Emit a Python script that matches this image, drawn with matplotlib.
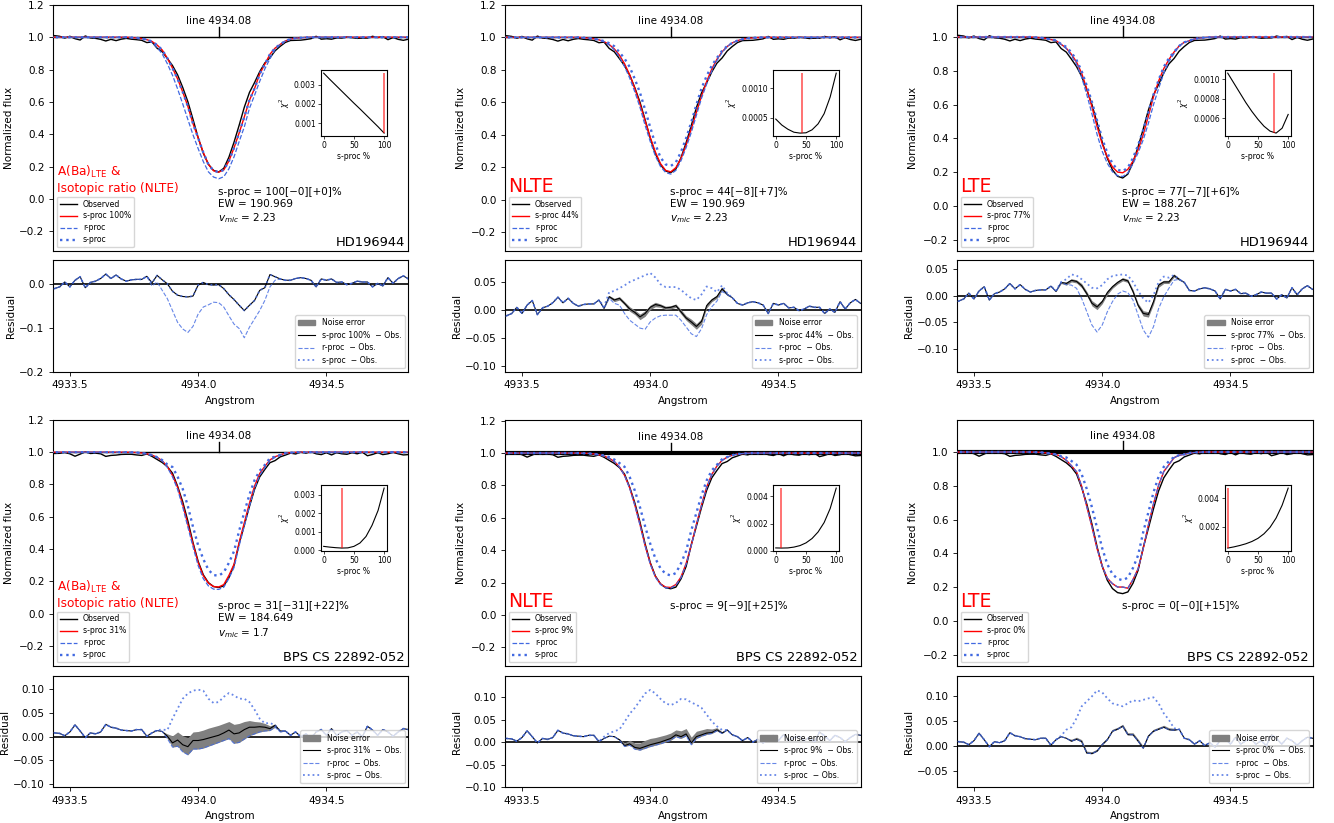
import numpy as np
import matplotlib
matplotlib.use("Agg")
import matplotlib.pyplot as plt
from matplotlib.patches import Patch
from matplotlib.ticker import FormatStrFormatter

plt.rcParams.update({
    "font.size": 7.5,
    "axes.linewidth": 0.8,
    "xtick.major.size": 2.6,
    "ytick.major.size": 2.6,
    "xtick.major.width": 0.6,
    "ytick.major.width": 0.6,
})

# ---------------------------------------------------------------- data
LINE_CENTER = 4934.08

# wavelength sampling of the spectra (Angstrom)
wave = np.linspace(4933.42, 4934.82, 71)
# window around the Ba II line where the synthetic spectra depart from the continuum
core = (wave > 4933.735) & (wave < 4934.425)

# observed normalized flux
obs_hd196944 = [
    1.012, 1.010, 1.006, 0.995, 1.006, 0.991, 0.983, 1.008, 0.996, 0.993,
    0.987, 0.977, 0.987, 0.979, 0.988, 0.993,
    0.988, 0.985, 0.981, 0.967, 0.971, 0.932, 0.911, 0.869, 0.825, 0.767,
    0.689, 0.601, 0.492, 0.379, 0.283, 0.214, 0.176, 0.166, 0.189, 0.258,
    0.351, 0.456, 0.567, 0.658, 0.720, 0.787, 0.841, 0.873, 0.916, 0.944,
    0.968, 0.980, 0.981, 0.982, 0.986,
    0.991, 1.006, 0.988, 0.991, 0.988, 0.996, 0.995, 1.001, 0.998, 0.993,
    0.995, 0.995, 1.006, 0.998, 1.004, 0.985, 0.998, 0.987, 0.981, 0.988,
]
obs_cs22892 = [
    0.990, 0.992, 0.993, 0.998, 0.990, 0.975, 0.988, 1.002, 0.992, 0.994,
    0.990, 0.974, 0.980, 0.982, 0.986, 0.987,
    0.987, 0.983, 0.980, 0.989, 0.974, 0.955, 0.936, 0.910, 0.870, 0.789,
    0.692, 0.574, 0.440, 0.324, 0.241, 0.192, 0.168, 0.162, 0.172, 0.223,
    0.300, 0.434, 0.548, 0.664, 0.770, 0.847, 0.893, 0.935, 0.948, 0.971,
    0.982, 0.994, 0.989, 1.000, 0.994,
    1.003, 0.990, 0.985, 0.997, 0.983, 0.997, 0.990, 0.987, 0.997, 0.990,
    1.000, 0.978, 0.986, 0.997, 0.985, 0.990, 0.999, 0.990, 0.983, 0.985,
]

# residuals (synthetic - observed) inside the line window, 4933.74 ... 4934.42
# HD196944, A(Ba)_LTE & isotopic ratio (NLTE)
res_hd_ltei_best = [0.010, 0.011, 0.011, 0.018, 0.003, 0.020, 0.010, 0.001, -0.016, -0.025,
                    -0.028, -0.029, -0.027, -0.002, 0.004, -0.001, -0.002, -0.001, -0.010, -0.024,
                    -0.035, -0.048, -0.060, -0.048, -0.037, -0.014, -0.008, 0.022, 0.017, 0.012,
                    0.009, 0.009, 0.013, 0.015, 0.013]
res_hd_ltei_r = [0.010, 0.011, 0.011, 0.018, -0.004, 0.005, -0.014, -0.033, -0.060, -0.087,
                 -0.102, -0.110, -0.096, -0.068, -0.052, -0.047, -0.041, -0.042, -0.052, -0.072,
                 -0.091, -0.101, -0.122, -0.098, -0.079, -0.060, -0.037, -0.006, 0.009, 0.012,
                 0.009, 0.009, 0.013, 0.015, 0.013]
res_hd_ltei_s = res_hd_ltei_best
# HD196944, NLTE
res_hd_nlte_best = [0.010, 0.011, 0.011, 0.018, 0.003, 0.024, 0.018, 0.021, 0.012, 0.002,
                    -0.004, -0.012, -0.006, 0.005, 0.010, 0.008, 0.004, 0.005, 0.008, -0.003,
                    -0.014, -0.021, -0.029, -0.020, 0.008, 0.018, 0.024, 0.038, 0.028, 0.022,
                    0.012, 0.009, 0.013, 0.015, 0.013]
res_hd_nlte_r = [0.010, 0.011, 0.011, 0.018, 0.003, 0.021, 0.012, 0.009, -0.006, -0.018,
                 -0.025, -0.032, -0.034, -0.021, -0.014, -0.010, -0.009, -0.009, -0.009, -0.018,
                 -0.030, -0.042, -0.047, -0.033, -0.008, 0.006, 0.016, 0.033, 0.028, 0.022,
                 0.012, 0.009, 0.013, 0.015, 0.013]
res_hd_nlte_s = [0.010, 0.011, 0.011, 0.018, 0.006, 0.032, 0.034, 0.039, 0.044, 0.050,
                 0.054, 0.058, 0.062, 0.066, 0.058, 0.046, 0.041, 0.041, 0.041, 0.036,
                 0.028, 0.021, 0.018, 0.028, 0.042, 0.039, 0.032, 0.044, 0.030, 0.022,
                 0.012, 0.009, 0.013, 0.015, 0.013]
# HD196944, LTE
res_hd_lte_best = [0.010, 0.011, 0.011, 0.018, 0.008, 0.025, 0.023, 0.029, 0.027, 0.019,
                   0.004, -0.014, -0.021, -0.011, 0.006, 0.017, 0.025, 0.031, 0.028, 0.008,
                   -0.018, -0.033, -0.035, -0.011, 0.020, 0.026, 0.026, 0.038, 0.031, 0.025,
                   0.010, 0.009, 0.013, 0.015, 0.013]
res_hd_lte_r = [0.010, 0.011, 0.011, 0.018, 0.008, 0.025, 0.021, 0.020, 0.014, -0.005,
                -0.030, -0.055, -0.068, -0.055, -0.030, -0.011, 0.003, 0.009, 0.006, -0.008,
                -0.036, -0.064, -0.078, -0.058, -0.024, -0.002, 0.014, 0.029, 0.031, 0.025,
                0.010, 0.009, 0.013, 0.015, 0.013]
res_hd_lte_s = [0.010, 0.011, 0.011, 0.018, 0.010, 0.026, 0.031, 0.040, 0.038, 0.031,
                0.023, 0.015, 0.014, 0.020, 0.031, 0.037, 0.039, 0.040, 0.038, 0.026,
                0.009, -0.005, -0.013, 0.001, 0.026, 0.036, 0.034, 0.039, 0.031, 0.025,
                0.010, 0.009, 0.013, 0.015, 0.013]
# half width of the noise envelope for HD196944
noise_hd = [0, 0, 0, 0, 0, 0.002, 0.003, 0.003, 0.003, 0.004,
            0.004, 0.005, 0.005, 0.004, 0.004, 0.003, 0.003, 0.003, 0.003, 0.004,
            0.004, 0.005, 0.005, 0.005, 0.004, 0.003, 0.003, 0.003, 0.002, 0,
            0, 0, 0, 0, 0]
noise_none = [0] * 35

# BPS CS 22892-052, A(Ba)_LTE & isotopic ratio (NLTE)
res_cs_ltei_best = [0.012, 0.015, 0.015, 0.001, 0.008, 0.013, 0.011, 0.001, -0.013, -0.007,
                    -0.017, -0.021, -0.008, -0.008, -0.006, -0.003, 0.000, 0.003, 0.008, 0.014,
                    0.006, 0.008, 0.015, 0.020, 0.020, 0.021, 0.020, 0.017, 0.024, 0.012,
                    0.012, 0.003, 0.010, 0.000, 0.006]
res_cs_ltei_r = [0.012, 0.015, 0.015, 0.001, 0.008, 0.013, 0.011, -0.004, -0.022, -0.020,
                 -0.032, -0.038, -0.026, -0.026, -0.024, -0.020, -0.016, -0.012, -0.008, -0.004,
                 -0.014, -0.012, -0.005, 0.002, 0.006, 0.010, 0.012, 0.013, 0.020, 0.010,
                 0.012, 0.003, 0.010, 0.000, 0.006]
res_cs_ltei_s = [0.012, 0.015, 0.015, 0.001, 0.008, 0.014, 0.015, 0.014, 0.038, 0.059,
                 0.080, 0.091, 0.097, 0.099, 0.097, 0.080, 0.071, 0.073, 0.084, 0.092,
                 0.087, 0.080, 0.080, 0.073, 0.057, 0.038, 0.028, 0.029, 0.024, 0.012,
                 0.012, 0.003, 0.010, 0.000, 0.006]
band_cs_ltei_hi = [0.012, 0.015, 0.015, 0.001, 0.008, 0.013, 0.011, 0.006, 0.002, 0.010,
                   0.002, -0.002, 0.010, 0.011, 0.014, 0.018, 0.021, 0.024, 0.028, 0.032,
                   0.026, 0.028, 0.032, 0.034, 0.032, 0.031, 0.028, 0.023, 0.027, 0.012,
                   0.012, 0.003, 0.010, 0.000, 0.006]
# BPS CS 22892-052, NLTE
res_cs_nlte_best = [0.012, 0.015, 0.015, 0.001, 0.008, 0.013, 0.012, 0.005, -0.008, -0.004,
                    -0.012, -0.014, -0.010, -0.006, -0.003, 0.000, 0.004, 0.008, 0.016, 0.012,
                    0.018, -0.002, 0.012, 0.016, 0.020, 0.021, 0.027, 0.020, 0.027, 0.016,
                    0.012, 0.003, 0.010, 0.000, 0.006]
res_cs_nlte_r = [0.012, 0.015, 0.015, 0.001, 0.008, 0.013, 0.012, 0.004, -0.010, -0.007,
                 -0.016, -0.018, -0.014, -0.010, -0.007, -0.004, 0.000, 0.004, 0.012, 0.008,
                 0.014, -0.006, 0.008, 0.013, 0.017, 0.019, 0.025, 0.019, 0.027, 0.016,
                 0.012, 0.003, 0.010, 0.000, 0.006]
res_cs_nlte_s = [0.012, 0.015, 0.015, 0.001, 0.012, 0.020, 0.024, 0.028, 0.045, 0.063,
                 0.076, 0.092, 0.108, 0.116, 0.108, 0.096, 0.086, 0.082, 0.087, 0.096,
                 0.095, 0.088, 0.083, 0.076, 0.061, 0.046, 0.035, 0.027, 0.027, 0.016,
                 0.012, 0.003, 0.010, 0.000, 0.006]
band_cs_nlte_hi = [0.012, 0.015, 0.015, 0.001, 0.008, 0.013, 0.012, 0.007, -0.002, 0.004,
                   -0.002, -0.002, 0.004, 0.008, 0.010, 0.013, 0.016, 0.020, 0.027, 0.025,
                   0.030, 0.011, 0.024, 0.027, 0.030, 0.029, 0.032, 0.023, 0.028, 0.016,
                   0.012, 0.003, 0.010, 0.000, 0.006]
# BPS CS 22892-052, LTE
res_cs_lte_best = [0.012, 0.015, 0.015, 0.001, 0.012, 0.018, 0.015, 0.009, 0.013, 0.008,
                   -0.015, -0.016, -0.011, 0.002, 0.012, 0.029, 0.033, 0.039, 0.022, 0.022,
                   0.009, -0.005, 0.019, 0.029, 0.033, 0.037, 0.032, 0.031, 0.033, 0.015,
                   0.012, 0.003, 0.010, 0.000, 0.006]
res_cs_lte_r = res_cs_lte_best
res_cs_lte_s = [0.012, 0.015, 0.015, 0.001, 0.012, 0.020, 0.032, 0.037, 0.055, 0.079,
                0.089, 0.099, 0.111, 0.107, 0.095, 0.085, 0.082, 0.079, 0.085, 0.091,
                0.089, 0.092, 0.095, 0.097, 0.085, 0.065, 0.052, 0.035, 0.033, 0.015,
                0.012, 0.003, 0.010, 0.000, 0.006]
band_cs_lte_hi = [0.012, 0.015, 0.015, 0.001, 0.012, 0.018, 0.015, 0.013, 0.017, 0.012,
                  -0.011, -0.012, -0.007, 0.006, 0.016, 0.033, 0.037, 0.043, 0.026, 0.026,
                  0.013, -0.001, 0.023, 0.033, 0.037, 0.041, 0.036, 0.035, 0.033, 0.015,
                  0.012, 0.003, 0.010, 0.000, 0.006]

# chi-square of the fit against the s-process fraction
sproc_grid = [0, 10, 20, 30, 40, 50, 60, 70, 80, 90, 100]
chi2_hd_ltei = [0.00360, 0.00328, 0.00297, 0.00266, 0.00235, 0.00204, 0.00174, 0.00143, 0.00112, 0.00081, 0.00048]
chi2_hd_nlte = [0.00048, 0.00038, 0.00031, 0.00026, 0.000245, 0.00025, 0.00030, 0.00040, 0.00057, 0.00085, 0.00125]
chi2_hd_lte = [0.00106, 0.00096, 0.00086, 0.00076, 0.00067, 0.00059, 0.00052, 0.00047, 0.00045, 0.00050, 0.00064]
chi2_cs_ltei = [0.00022, 0.00018, 0.00015, 0.00013, 0.00014, 0.00022, 0.00040, 0.00075, 0.00135, 0.00215, 0.00335]
chi2_cs_nlte = [0.00021, 0.00020, 0.00021, 0.00027, 0.00038, 0.00058, 0.00090, 0.00138, 0.00207, 0.00310, 0.00460]
chi2_cs_lte = [0.00050, 0.00058, 0.00068, 0.00080, 0.00096, 0.00118, 0.00150, 0.00195, 0.00260, 0.00350, 0.00470]

# fit results
star_names = ["HD196944"] * 3 + ["BPS CS 22892-052"] * 3
method_tags = ["A(Ba)$_{\\rm LTE}$ &\nIsotopic ratio (NLTE)", "NLTE", "LTE"] * 2
sproc_best = [100, 44, 77, 31, 9, 0]
sproc_err_lo = [0, 8, 7, 31, 9, 0]
sproc_err_hi = [0, 7, 6, 22, 25, 15]
ew_values = [190.969, 190.969, 188.267, 184.649, None, None]
vmic_values = ["2.23", "2.23", "2.23", "1.7", None, None]

# ---------------------------------------------------------------- panel setup
obs_sets = [obs_hd196944] * 3 + [obs_cs22892] * 3
res_best_sets = [res_hd_ltei_best, res_hd_nlte_best, res_hd_lte_best,
                 res_cs_ltei_best, res_cs_nlte_best, res_cs_lte_best]
res_r_sets = [res_hd_ltei_r, res_hd_nlte_r, res_hd_lte_r,
              res_cs_ltei_r, res_cs_nlte_r, res_cs_lte_r]
res_s_sets = [res_hd_ltei_s, res_hd_nlte_s, res_hd_lte_s,
              res_cs_ltei_s, res_cs_nlte_s, res_cs_lte_s]
# noise envelope: (lower edge, upper edge) in residual units
band_sets = [
    (np.array(res_hd_ltei_best) - noise_none, np.array(res_hd_ltei_best) + noise_none),
    (np.array(res_hd_nlte_best) - noise_hd, np.array(res_hd_nlte_best) + noise_hd),
    (np.array(res_hd_lte_best) - noise_hd, np.array(res_hd_lte_best) + noise_hd),
    (np.array(res_cs_ltei_r), np.array(band_cs_ltei_hi)),
    (np.array(res_cs_nlte_r), np.array(band_cs_nlte_hi)),
    (np.array(res_cs_lte_best), np.array(band_cs_lte_hi)),
]
chi2_sets = [chi2_hd_ltei, chi2_hd_nlte, chi2_hd_lte, chi2_cs_ltei, chi2_cs_nlte, chi2_cs_lte]
chi2_ticks = [[0.001, 0.002, 0.003], [0.0005, 0.0010], [0.0006, 0.0008, 0.0010],
              [0.000, 0.001, 0.002, 0.003], [0.000, 0.002, 0.004], [0.002, 0.004]]
flux_ylims = [(-0.323, 1.2), (-0.317, 1.2), (-0.266, 1.19),
              (-0.324, 1.2), (-0.315, 1.205), (-0.266, 1.19)]
res_ylims = [(-0.2, 0.055), (-0.11, 0.089), (-0.143, 0.067),
             (-0.106, 0.128), (-0.10, 0.147), (-0.083, 0.14)]
res_ticks = [[-0.2, -0.1, 0.0]] + [[-0.10, -0.05, 0.00, 0.05, 0.10]] * 5
continuum_lw = [1.0, 1.0, 1.0, 1.0, 3.0, 3.0]
tag_sizes = [8.7, 13.6, 13.6, 8.7, 13.6, 13.6]

XLIM = (4933.434, 4934.82)
BLUE = "royalblue"
MINUS = "\u2212"

fig = plt.figure(figsize=(13.34, 8.23), dpi=100)
col_left = [0.0397, 0.3786, 0.7174]
col_width = 0.2665
main_rows = [(0.695, 0.299), (0.1908, 0.299)]
res_rows = [(0.548, 0.136), (0.0437, 0.135)]

for i in range(6):
    row, col = divmod(i, 3)
    ax = fig.add_axes([col_left[col], main_rows[row][0], col_width, main_rows[row][1]])
    rax = fig.add_axes([col_left[col], res_rows[row][0], col_width, res_rows[row][1]])

    obs = np.asarray(obs_sets[i], dtype=float)

    def synth(res):
        flux = np.ones_like(wave)
        flux[core] = obs[core] + np.asarray(res, dtype=float)
        return flux

    m_best = synth(res_best_sets[i])
    m_r = synth(res_r_sets[i])
    m_s = synth(res_s_sets[i])
    best = sproc_best[i]

    # ---- spectrum panel
    ax.axhline(1.0, color="k", lw=continuum_lw[i], zorder=1)
    ax.plot([LINE_CENTER, LINE_CENTER], [1.0, 1.063], color="k", lw=1.0)
    ax.text(LINE_CENTER, 1.068, f"line {LINE_CENTER:.2f}", ha="center", va="bottom",
            fontsize=7.5)
    ax.plot(wave, obs, color="k", lw=1.0, label="Observed", zorder=3)
    ax.plot(wave, m_best, color="red", lw=1.0, label=f"s-proc {best}%", zorder=4)
    ax.plot(wave, m_r, color=BLUE, ls="--", lw=0.9, label="r-proc", zorder=5)
    ax.plot(wave, m_s, color=BLUE, ls=":", lw=1.7, label="s-proc", zorder=6)
    ax.set_xlim(*XLIM)
    ax.set_yticks([-0.2, 0.0, 0.2, 0.4, 0.6, 0.8, 1.0, 1.2])
    ax.set_ylim(*flux_ylims[i])
    ax.tick_params(axis="x", bottom=False, labelbottom=False)
    ax.tick_params(axis="y", labelsize=7.5)
    ax.set_ylabel("Normalized flux", fontsize=7.5)
    ax.legend(loc="lower left", fontsize=5.6, handlelength=2.2,
              labelspacing=0.38, borderpad=0.35)

    info = f"s-proc = {best}[{MINUS}{sproc_err_lo[i]}][+{sproc_err_hi[i]}]%"
    if ew_values[i] is not None:
        info += f"\nEW = {ew_values[i]:.3f}\n$v_{{mic}}$ = {vmic_values[i]}"
    ax.text(0.463, 0.262, info, transform=ax.transAxes, ha="left", va="top",
            fontsize=7.5, linespacing=1.25)
    ax.text(0.01, 0.24, method_tags[i], transform=ax.transAxes, ha="left",
            va="baseline", color="red", fontsize=tag_sizes[i], linespacing=1.2)
    ax.text(0.99, 0.022, star_names[i], transform=ax.transAxes, ha="right",
            va="baseline", fontsize=9.4)

    # ---- chi-square inset
    ins = ax.inset_axes([0.753, 0.467, 0.187, 0.268])
    chi2 = chi2_sets[i]
    ins.plot(sproc_grid, chi2, color="k", lw=0.8)
    ins.vlines(best, min(chi2), max(chi2), color="red", lw=1.1, alpha=0.7)
    ins.set_xticks([0, 50, 100])
    ins.set_yticks(chi2_ticks[i])
    ins.margins(x=0.05, y=0.05)
    ins.tick_params(labelsize=5.5, length=2, width=0.5, pad=1.5)
    ins.set_xlabel("s-proc %", fontsize=5.5, labelpad=1.5)
    ins.set_ylabel(r"$\chi^2$", fontsize=5.5, labelpad=1.5)

    # ---- residual panel
    lo, hi = band_sets[i]
    rax.fill_between(wave[core], lo, hi, color="gray", lw=0, zorder=2)
    rax.axhline(0.0, color="k", lw=1.2, zorder=1)
    hb, = rax.plot(wave, m_best - obs, color="k", lw=0.8, zorder=3)
    hr, = rax.plot(wave, m_r - obs, color=BLUE, ls="--", lw=0.8, alpha=0.8, zorder=4)
    hs, = rax.plot(wave, m_s - obs, color=BLUE, ls=":", lw=1.3, alpha=0.8, zorder=5)
    rax.set_xlim(*XLIM)
    rax.set_yticks(res_ticks[i])
    rax.set_ylim(*res_ylims[i])
    rax.set_xticks([4933.5, 4934.0, 4934.5])
    rax.xaxis.set_major_formatter(FormatStrFormatter("%.1f"))
    rax.tick_params(labelsize=7.5)
    rax.set_xlabel("Angstrom", fontsize=7.5)
    rax.set_ylabel("Residual", fontsize=7.5, labelpad=2)
    rax.legend([Patch(color="gray"), hb, hr, hs],
               ["Noise error", f"s-proc {best}%  {MINUS} Obs.",
                f"r-proc  {MINUS} Obs.", f"s-proc  {MINUS} Obs."],
               loc="lower right", fontsize=5.6, handlelength=2.2,
               labelspacing=0.45, borderpad=0.4)

fig.savefig("out.png", dpi=100)
